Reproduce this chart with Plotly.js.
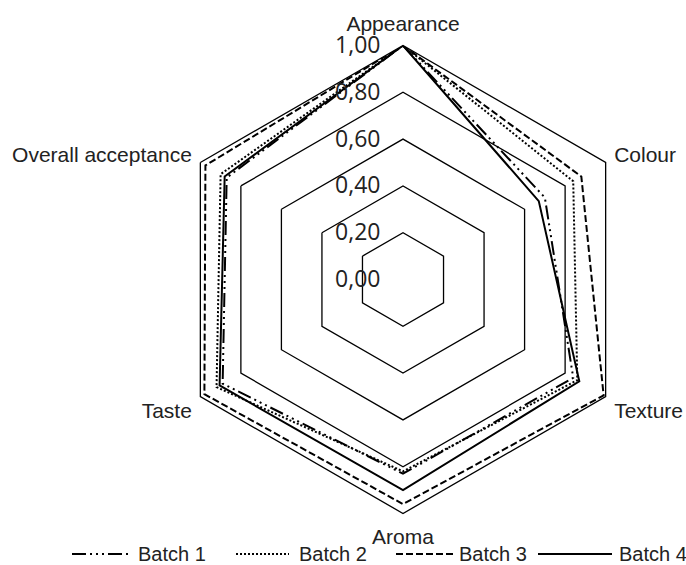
<!DOCTYPE html>
<html>
<head>
<meta charset="utf-8">
<script src="https://cdn.plot.ly/plotly-3.0.1.min.js"></script>
<style>html,body{margin:0;padding:0;background:#fff;}#chart{width:686px;height:565px;}</style>
</head>
<body>
<div id="chart"></div>
<script>
// ---- data ----
var categories = ['Appearance', 'Colour', 'Texture', 'Aroma', 'Taste', 'Overall acceptance'];
var seriesNames = ['Batch 1', 'Batch 2', 'Batch 3', 'Batch 4'];
var batch1 = [1.00, 0.70, 0.84, 0.83, 0.89, 0.87];
var batch2 = [1.00, 0.84, 0.86, 0.82, 0.92, 0.90];
var batch3 = [1.00, 0.88, 0.99, 0.96, 0.98, 0.975];
var batch4 = [1.00, 0.67, 0.87, 0.90, 0.905, 0.88];
var radialTicks = [0, 0.2, 0.4, 0.6, 0.8, 1.0];

// ---- styles ----
var values = [batch1, batch2, batch3, batch4];
var dashes = ['14px,4px,2px,4px,2px,4px,2px,4px', '2px,2px', '7px,3px', 'solid'];
var W = 686, H = 565;
var cx = 403, cy = 279.5, R = 234;

var traces = values.map(function (v, i) {
  return {
    type: 'scatterpolar',
    mode: 'lines',
    r: v.concat([v[0]]),
    theta: categories.concat([categories[0]]),
    name: seriesNames[i],
    line: {color: '#000', width: 2, dash: dashes[i]},
    showlegend: false,
    hoverinfo: 'skip'
  };
});

// custom legend (positions in px)
var legSym = [[72, 131], [236, 289], [396, 455], [538, 612]];
var legText = [136, 297, 457, 617];
var legY = 554;
var shapes = [], annotations = [];
seriesNames.forEach(function (n, i) {
  shapes.push({type: 'line', xref: 'paper', yref: 'paper',
    x0: legSym[i][0] / W, x1: legSym[i][1] / W, y0: 1 - legY / H, y1: 1 - legY / H,
    line: {color: '#000', width: 2, dash: dashes[i]}});
  annotations.push({xref: 'paper', yref: 'paper', x: legText[i] / W, y: 1 - legY / H,
    xanchor: 'left', yanchor: 'middle', showarrow: false, text: n,
    font: {family: 'Liberation Sans, Arial, sans-serif', size: 20, color: '#222'}});
});

var layout = {
  width: W, height: H,
  margin: {l: 0, r: 0, t: 0, b: 0},
  paper_bgcolor: '#fff',
  separators: ',.',
  showlegend: false,
  polar: {
    domain: {x: [(cx - R) / W, (cx + R) / W], y: [1 - (cy + R) / H, 1 - (cy - R) / H]},
    gridshape: 'linear',
    bgcolor: '#fff',
    radialaxis: {
      range: [0, 1], tickvals: radialTicks, tickformat: '.2f',
      angle: 90, side: 'counterclockwise', tickangle: 90,
      showline: false, showgrid: true, gridcolor: '#000', gridwidth: 1.3,
      ticks: 'outside', ticklen: 14, tickcolor: 'rgba(0,0,0,0)',
      tickfont: {family: 'Open Sans, Noto Sans, sans-serif', size: 23, color: '#222'}
    },
    angularaxis: {
      rotation: 90, direction: 'clockwise',
      showgrid: false, showline: true, linecolor: '#000', linewidth: 1.3,
      ticks: 'outside', ticklen: 5, tickcolor: 'rgba(0,0,0,0)',
      tickfont: {family: 'Liberation Sans, Arial, sans-serif', size: 21, color: '#222'}
    }
  },
  shapes: shapes,
  annotations: annotations
};

Plotly.newPlot('chart', traces, layout, {displayModeBar: false, staticPlot: true});
</script>
</body>
</html>
